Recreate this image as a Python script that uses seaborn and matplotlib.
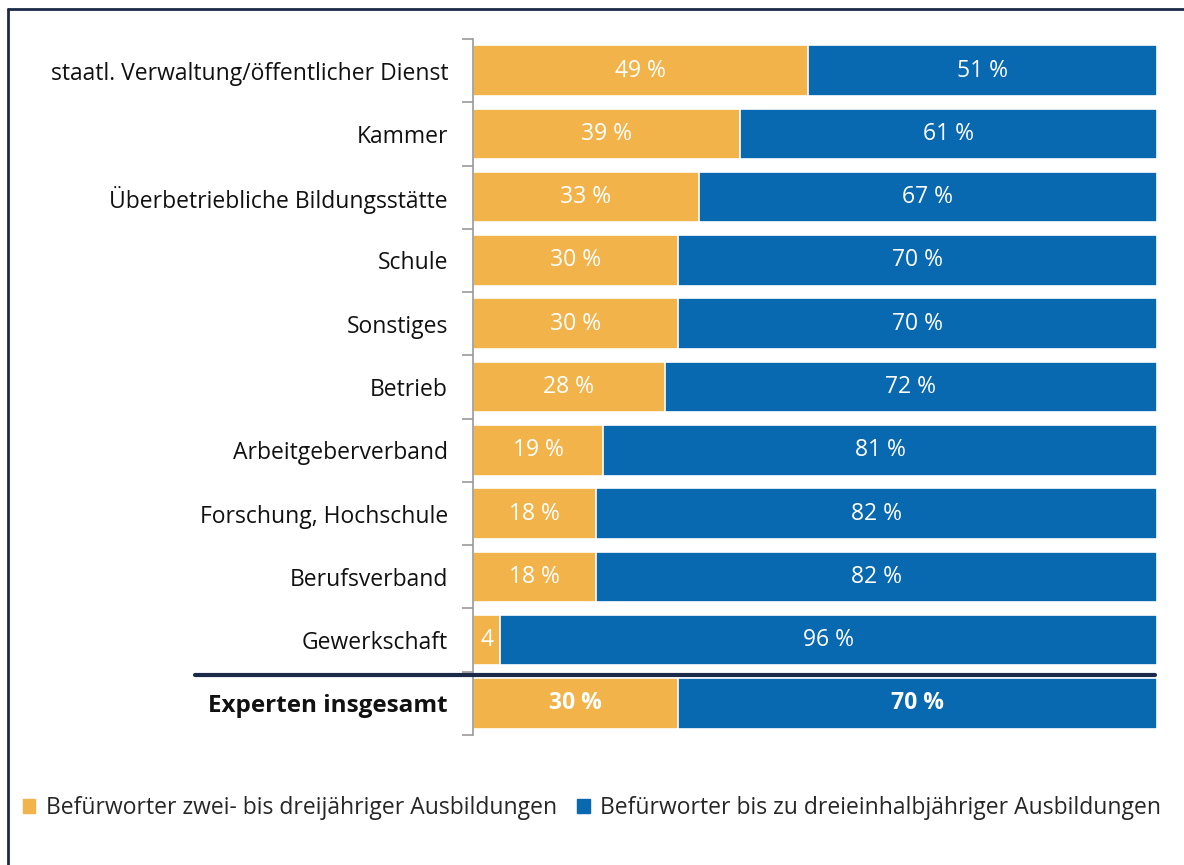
import matplotlib
matplotlib.use("Agg")
import matplotlib.pyplot as plt
import matplotlib.transforms as mtransforms
from matplotlib.lines import Line2D
from matplotlib.patches import Patch
import seaborn as sns

# data
categories = ["staatl. Verwaltung/öffentlicher Dienst", "Kammer",
              "Überbetriebliche Bildungsstätte", "Schule", "Sonstiges",
              "Betrieb", "Arbeitgeberverband", "Forschung, Hochschule",
              "Berufsverband", "Gewerkschaft", "Experten insgesamt"]
short_share = [49, 39, 33, 30, 30, 28, 19, 18, 18, 4, 30]
long_share = [51, 61, 67, 70, 70, 72, 81, 82, 82, 96, 70]
short_labels = ["49 %", "39 %", "33 %", "30 %", "30 %", "28 %", "19 %",
                "18 %", "18 %", "4", "30 %"]
long_labels = ["51 %", "61 %", "67 %", "70 %", "70 %", "72 %", "81 %",
               "82 %", "82 %", "96 %", "70 %"]
series_names = ["Befürworter zwei- bis dreijähriger Ausbildungen",
                "Befürworter bis zu dreieinhalbjähriger Ausbildungen"]

ORANGE = "#F2B34A"
BLUE = "#0868B0"
NAVY = "#1C2A4A"
FS = 16.5

sns.set_style("white")
plt.rcParams["font.family"] = ["Open Sans", "DejaVu Sans"]

fig = plt.figure(figsize=(11.84, 8.65), dpi=100)
ax = fig.add_axes([0.3995, 0.1503, 0.5777, 0.8046])

totals = [a + b for a, b in zip(short_share, long_share)]
sns.barplot(x=totals, y=categories, orient="h", color=BLUE, width=0.8,
            edgecolor="white", linewidth=1.2, saturation=1, ax=ax)
sns.barplot(x=short_share, y=categories, orient="h", color=ORANGE, width=0.8,
            edgecolor="white", linewidth=1.2, saturation=1, ax=ax)

ax.set_xlim(0, 100)
ax.set_ylim(len(categories) - 0.5, -0.5)
ax.set_xlabel("")
ax.set_ylabel("")
ax.xaxis.set_visible(False)
for s in ["top", "right", "bottom"]:
    ax.spines[s].set_visible(False)
ax.spines["left"].set_color("#999999")
ax.spines["left"].set_linewidth(1.2)

# category ticks sit between the bars
ax.set_yticks(range(len(categories)))
ax.set_yticks([i - 0.5 for i in range(len(categories) + 1)], minor=True)
ax.tick_params(axis="y", which="both", left=True)
ax.tick_params(axis="y", which="major", length=0, pad=18, labelsize=FS,
               labelcolor="#111111")
ax.tick_params(axis="y", which="minor", length=8, width=1.2, color="#999999")
ax.set_yticklabels(categories)
last = ax.get_yticklabels()[-1]
last.set_fontweight("bold")
last.set_fontsize(17.5)

for i in range(len(categories)):
    bold = "bold" if i == len(categories) - 1 else "normal"
    ax.text(short_share[i] / 2, i, short_labels[i], ha="center", va="center",
            color="white", fontsize=FS, fontweight=bold)
    ax.text(short_share[i] + long_share[i] / 2, i, long_labels[i],
            ha="center", va="center", color="white", fontsize=FS,
            fontweight=bold)

# separator above the total row
trans = mtransforms.blended_transform_factory(fig.transFigure, ax.transData)
fig.add_artist(Line2D([195 / 1184, 1155 / 1184], [9.55, 9.55],
                      transform=trans, color=NAVY, linewidth=3))

# frame lines (top and left)
fig.add_artist(Line2D([8 / 1184, 1], [1 - 9 / 865, 1 - 9 / 865],
                      transform=fig.transFigure, color=NAVY, linewidth=2))
fig.add_artist(Line2D([8 / 1184, 8 / 1184], [0, 1 - 9 / 865],
                      transform=fig.transFigure, color=NAVY, linewidth=2))

handles = [Patch(color=ORANGE), Patch(color=BLUE)]
fig.legend(handles, series_names, loc="center", bbox_to_anchor=(0.5, 0.066),
           ncol=2, frameon=False, fontsize=FS, handlelength=0.55,
           handleheight=0.55, handletextpad=0.45, columnspacing=0.9)

fig.savefig("out.png", dpi=100)
